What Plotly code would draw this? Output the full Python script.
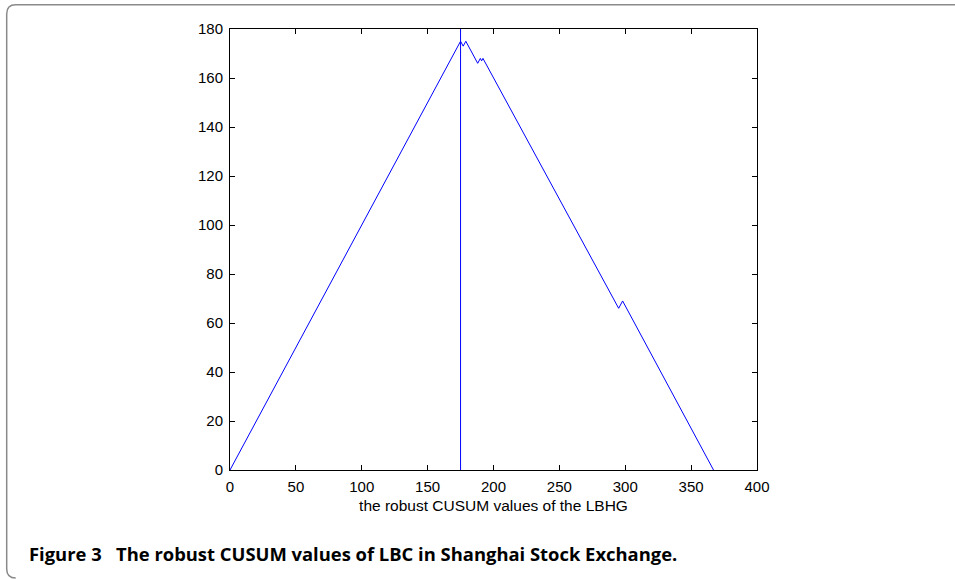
import plotly.graph_objects as go

# Data: breakpoints of the robust CUSUM curve
cusum_x = [0, 175, 177, 179, 188, 190, 191, 192, 295, 298, 367]
cusum_y = [0, 175, 173, 175, 166, 168, 167, 168, 66, 69, 0]
change_point = 175
x_ticks = [0, 50, 100, 150, 200, 250, 300, 350, 400]
y_ticks = [0, 20, 40, 60, 80, 100, 120, 140, 160, 180]

W, H = 955, 579
L, R, T, B = 230, 757, 29, 470

def px(xp):
    return (xp - L) / (R - L)

def py(yp):
    return (B - yp) / (B - T)

fig = go.Figure()
fig.add_trace(go.Scatter(x=cusum_x, y=cusum_y, mode="lines",
                         line=dict(color="#0000ff", width=1), showlegend=False,
                         hoverinfo="skip"))
fig.add_trace(go.Scatter(x=[change_point, change_point], y=[0, 180], mode="lines",
                         line=dict(color="#0000ff", width=1), showlegend=False,
                         hoverinfo="skip"))

axis_font = dict(family="Liberation Sans, Arial, sans-serif", size=15, color="black")
title_font = dict(family="Liberation Sans, Arial, sans-serif", size=15.5, color="black")

fig.update_xaxes(range=[0, 400], tickvals=x_ticks, ticks="inside", ticklen=5,
                 tickcolor="black", showline=True, linecolor="black", linewidth=1,
                 mirror="ticks", showgrid=False, zeroline=False, tickfont=axis_font,
                 ticklabelstandoff=3,
                 title=dict(text="the robust CUSUM values of the LBHG", font=title_font,
                            standoff=6))
fig.update_yaxes(range=[0, 180], tickvals=y_ticks, ticks="inside", ticklen=5,
                 tickcolor="black", showline=True, linecolor="black", linewidth=1,
                 mirror="ticks", showgrid=False, zeroline=False, tickfont=axis_font,
                 ticklabelstandoff=3)

# rounded frame
r = 9
x0, y0, y1, x1 = 6.7, 4.7, 578, 960
path = (f"M {px(x1)},{py(y0)} L {px(x0 + r)},{py(y0)} "
        f"Q {px(x0)},{py(y0)} {px(x0)},{py(y0 + r)} "
        f"L {px(x0)},{py(y1 - r)} Q {px(x0)},{py(y1)} {px(x0 + r)},{py(y1)}")
fig.add_shape(type="path", path=path, xref="paper", yref="paper",
              line=dict(color="#8a8a8a", width=1.5), layer="below")

fig.add_annotation(text="<b>Figure 3   The robust CUSUM values of LBC in Shanghai Stock Exchange.</b>",
                   xref="paper", yref="paper", x=px(27), y=py(553), xanchor="left",
                   yanchor="middle", showarrow=False,
                   font=dict(family="Open Sans, Noto Sans, sans-serif", size=18.4, color="black"))

fig.update_layout(width=W, height=H, margin=dict(l=L, r=W - R, t=T, b=H - B),
                  plot_bgcolor="white", paper_bgcolor="white")

fig.write_html("out.html", config={"displayModeBar": False},
               post_script="document.body.style.margin='0';")
